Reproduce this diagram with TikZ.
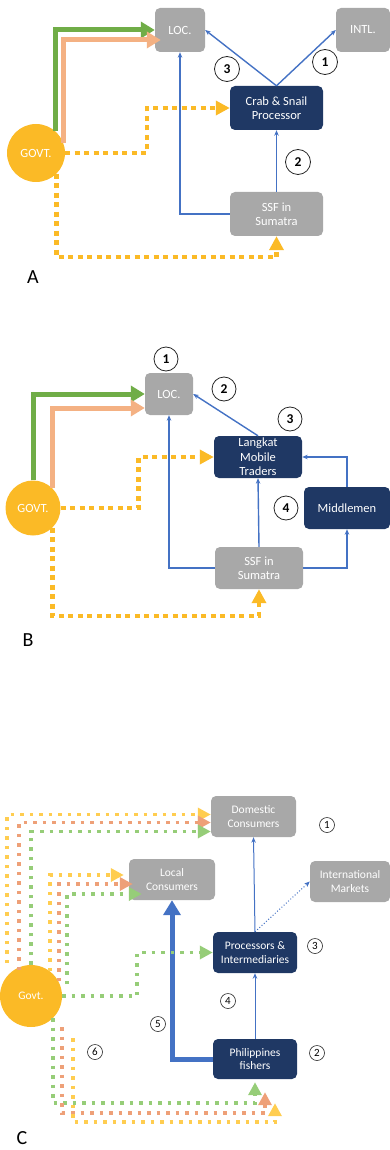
\documentclass[tikz,border=0pt]{standalone}
\usepackage{fontspec}
\setmainfont{Carlito}
\usetikzlibrary{arrows.meta}

\definecolor{boxgray}{RGB}{168,168,168}
\definecolor{navy}{RGB}{31,56,100}
\definecolor{govgold}{RGB}{251,186,38}
\definecolor{flowblue}{RGB}{68,114,196}
\definecolor{govgreen}{RGB}{112,173,71}
\definecolor{govpeach}{RGB}{244,177,131}
\definecolor{lightgold}{RGB}{255,205,80}
\definecolor{lightpeach}{RGB}{238,160,120}
\definecolor{lightgreen}{RGB}{150,205,120}

\tikzset{
  graybox/.style={rectangle,rounded corners=5pt,fill=boxgray,text=white,align=center,inner sep=1pt,
    font=\fontsize{12.5}{14.5}\selectfont},
  navybox/.style={graybox,fill=navy},
  cfont/.style={font=\fontsize{11.5}{13.5}\selectfont},
  govt/.style={circle,fill=govgold,text=white,inner sep=0pt,font=\fontsize{12.5}{14}\selectfont},
  num/.style={circle,draw=black!85,line width=0.8pt,inner sep=0pt,minimum size=25pt,
    font=\fontsize{13.5}{13.5}\selectfont\bfseries},
  smallnum/.style={num,line width=0.6pt,minimum size=15pt,font=\fontsize{11}{11}\selectfont},
  panel/.style={font=\fontsize{20}{20}\selectfont},
  flow/.style={flowblue,line width=1.4pt,-{Stealth[length=5.5pt,width=4.5pt]}},
  thinflow/.style={flow,line width=1pt},
  bigflow/.style={flowblue,line width=5pt,-{Triangle[length=15pt,width=17pt]}},
  solidgov/.style={line width=5pt,-{Triangle[length=14pt,width=16pt]}},
  dashgov/.style={govgold,line width=4.5pt,dash pattern=on 5pt off 4.5pt,-{Triangle[length=14pt,width=14pt]}},
  lightdash/.style={line width=3.5pt,dash pattern=on 3.5pt off 6pt,-{Triangle[length=13pt,width=13pt]}}
}

\begin{document}
\begin{tikzpicture}[x=1pt,y=-1pt]
  \useasboundingbox (0,0) rectangle (390,1150);

  % A
  \node[graybox,minimum width=50pt,minimum height=44pt] (locA) at (180,30) {LOC.};
  \node[graybox,minimum width=54pt,minimum height=44pt] (intlA) at (363,30) {INTL.};
  \node[navybox,minimum width=93pt,minimum height=44pt] (procA) at (276.5,108) {Crab \& Snail\\Processor};
  \node[graybox,minimum width=93pt,minimum height=44pt] (ssfA) at (276.5,214) {SSF in\\Sumatra};
  \node[govt,minimum size=58pt] (govA) at (36,153) {GOVT.};
  \node[num] (a3) at (227,69) {3};
  \node[num] (a1) at (325,62) {1};
  \node[num] (a2) at (298,162) {2};
  \node[panel] (labA) at (33,277) {A};

  \foreach \from/\to in {procA.north/locA.east,procA.north/intlA.west,ssfA.north/procA.south}
    \draw[flow] (\from) -- (\to);
  \draw[flow] (ssfA.west) -| (locA.south);
  \draw[solidgov,govgreen] (govA.48) |- (locA.west);
  \draw[solidgov,govpeach] (govA.20) |- ([xshift=6pt,yshift=-10pt]locA.west);
  \draw[dashgov] (govA.east) -- ++(82,0) |- (procA.west);
  \draw[dashgov] (govA.-45) |- ([yshift=-21pt]ssfA.south) -- (ssfA.south);

  % B
  \node[graybox,minimum width=48pt,minimum height=42pt] (locB) at (169,394) {LOC.};
  \node[navybox,minimum width=88pt,minimum height=42pt] (langB) at (258,457) {Langkat\\Mobile\\Traders};
  \node[navybox,minimum width=86pt,minimum height=42pt] (midB) at (347,508) {Middlemen};
  \node[graybox,minimum width=88pt,minimum height=42pt] (ssfB) at (259,568) {SSF in\\Sumatra};
  \node[govt,minimum size=55pt] (govB) at (33,508) {GOVT.};
  \node[num,minimum size=24pt] (b1) at (166,359) {1};
  \node[num,minimum size=24pt] (b2) at (224,389) {2};
  \node[num,minimum size=24pt] (b3) at (290,419) {3};
  \node[num,minimum size=24pt] (b4) at (286,508) {4};
  \node[panel] (labB) at (28,640) {B};

  \foreach \from/\to in {langB.north/locB.east,ssfB.north/langB.south}
    \draw[flow] (\from) -- (\to);
  \draw[flow] (ssfB.west) -| (locB.south);
  \draw[flow] (ssfB.east) -| (midB.south);
  \draw[flow] (midB.north) |- (langB.east);
  \draw[solidgov,govgreen] (govB.north) |- (locB.west);
  \draw[solidgov,govpeach] (govB.45) |- ([yshift=-14pt]locB.west);
  \draw[dashgov] (govB.east) -- ++(78,0) |- (langB.west);
  \draw[dashgov] (govB.-45) |- ([yshift=-27pt]ssfB.south) -- (ssfB.south);

  % C
  \node[graybox,cfont,minimum width=85pt,minimum height=41pt] (domC) at (253.5,816.5) {Domestic\\Consumers};
  \node[graybox,cfont,minimum width=80pt,minimum height=41pt] (intC) at (350,881.5) {International\\Markets};
  \node[graybox,cfont,minimum width=86pt,minimum height=41pt] (locC) at (172,879.5) {Local\\Consumers};
  \node[navybox,cfont,minimum width=84pt,minimum height=41pt] (procC) at (255,952.5) {Processors \&\\Intermediaries};
  \node[navybox,cfont,minimum width=84pt,minimum height=40pt] (fishC) at (255,1059) {Philippines\\fishers};
  \node[govt,cfont,minimum size=62pt] (govC) at (31,996) {Govt.};
  \node[smallnum] (c1) at (327,825) {1};
  \node[smallnum] (c3) at (315,946) {3};
  \node[smallnum] (c4) at (228,1001) {4};
  \node[smallnum] (c5) at (158,1024) {5};
  \node[smallnum] (c2) at (317,1053) {2};
  \node[smallnum] (c6) at (95,1052) {6};
  \node[panel] (labC) at (22,1138) {C};

  \foreach \from/\to in {procC.north/domC.south,fishC.north/procC.south}
    \draw[thinflow] (\from) -- (\to);
  \draw[thinflow,dotted] (procC.north) -- (intC.west);
  \draw[bigflow] (fishC.west) -| (locC.south);

  % govt support, C
  \draw[lightdash,lightgold] ([xshift=-24pt,yshift=33pt]govC.center) |- ([yshift=2pt]domC.west);
  \draw[lightdash,lightpeach] ([xshift=-12pt,yshift=26pt]govC.center) |- ([yshift=-6pt]domC.west);
  \draw[lightdash,lightgreen] (govC.north) |- ([yshift=-15pt]domC.west);
  \draw[lightdash,lightgold] ([xshift=19pt,yshift=25pt]govC.center) |- ([xshift=-5pt,yshift=4.5pt]locC.west);
  \draw[lightdash,lightpeach] ([xshift=28pt,yshift=15pt]govC.center) |- ([xshift=4pt,yshift=-4.5pt]locC.west);
  \draw[lightdash,lightgreen] ([xshift=36pt,yshift=12pt]govC.center) |- ([xshift=13pt,yshift=-14.5pt]locC.west);
  \draw[lightdash,lightgreen] (govC.east) -- ++(75,0) |- (procC.west);
  \draw[lightdash,lightgreen] (govC.-45) -- ++(0,85) -| ([yshift=-3pt]fishC.south);
  \draw[lightdash,lightpeach] ([xshift=31pt,yshift=-31pt]govC.center) -- ++(0,86) -| ([xshift=10pt,yshift=-13pt]fishC.south);
  \draw[lightdash,lightgold] ([xshift=42pt,yshift=-42pt]govC.center) -- ++(0,84) -| ([xshift=20pt,yshift=-24pt]fishC.south);
\end{tikzpicture}
\end{document}
